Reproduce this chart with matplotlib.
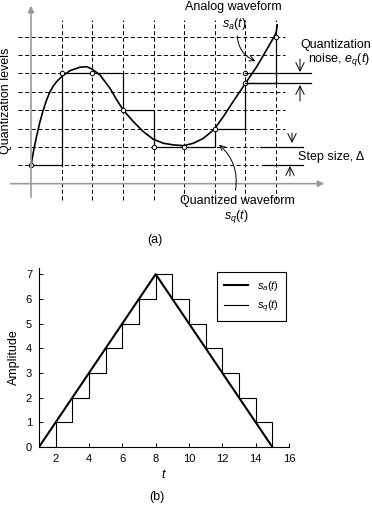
#! /usr/bin/env python3

import matplotlib
matplotlib.use("Agg")
import matplotlib.pyplot as plt

plt.rcParams['font.family'] = ['Liberation Sans', 'DejaVu Sans']
plt.rcParams['mathtext.fontset'] = 'custom'
plt.rcParams['mathtext.rm'] = 'Liberation Sans'
plt.rcParams['mathtext.it'] = 'Liberation Sans:italic'

# ---- data, panel (a): analog curve (t, level)
curve_t = [0, 0.08, 0.18, 0.29, 0.40, 0.51, 0.62, 0.73, 0.84, 1.02, 1.27, 1.60,
           1.82, 2.0, 2.25, 2.58, 2.80, 3.01, 3.34, 3.67, 3.99, 4.32, 4.65,
           4.99, 5.30, 5.63, 5.98, 6.28, 6.60, 7.0, 7.37, 7.69, 8.0, 8.04]
curve_lvl = [0, 0.75, 1.56, 2.35, 3.01, 3.56, 4.01, 4.32, 4.56, 4.86, 5.15, 5.34,
             5.37, 5.23, 4.92, 4.19, 3.56, 3.01, 2.38, 1.83, 1.42, 1.20, 1.11,
             1.07, 1.20, 1.47, 1.96, 2.65, 3.47, 4.46, 5.37, 6.28, 7.19, 7.64]
sample_t = [0, 1, 2, 3, 4, 5, 6, 7, 7, 8]
sample_lvl = [0, 5, 5, 3, 1, 1, 2, 4.46, 5, 7]
stair_t = [0, 1, 2, 3, 4, 5, 6, 7, 8]
stair_lvl = [0, 5, 5, 3, 1, 1, 2, 4.46, 4.46]
levels = [0, 1, 2, 3, 4, 5, 6, 7]

# ---- data, panel (b)
sa_t = [1, 8, 15]
sa_val = [0, 7, 0]
sq_t = list(range(1, 16))
sq_val = [0, 1, 2, 3, 4, 5, 6, 7, 6, 5, 4, 3, 2, 1, 0]
xticks_b = [2, 4, 6, 8, 10, 12, 14, 16]
yticks_b = [0, 1, 2, 3, 4, 5, 6, 7]

W, H = 372, 505
fig = plt.figure(figsize=(W / 100, H / 100), dpi=100)

# pixel -> data mapping of panel (a)
X0, DX = 31.0, 30.63
Y0, DY = 165.3, 18.37
def tx(px):
    return (px - X0) / DX
def ly(py):
    return (Y0 - py) / DY

ax = fig.add_axes([0, (H - 250) / H, 1, 250 / H])
ax.set_xlim(tx(0), tx(W))
ax.set_ylim(ly(250), ly(0))
ax.axis('off')

dash = dict(color='k', lw=0.7, dashes=[4.2, 2.6])
for t in range(1, 9):
    ax.plot([t, t], [-1.9, 7.9], **dash)
for lv in levels:
    right = tx(258) if lv in (0, 1) else tx(285)
    ax.plot([tx(18), right], [lv, lv], **dash)

# axes with arrows
ax.annotate('', xy=(tx(327), -1), xytext=(tx(8), -1),
            arrowprops=dict(arrowstyle='-|>', color='#999999', lw=1.2, mutation_scale=9))
ax.annotate('', xy=(0, ly(3)), xytext=(0, ly(200)),
            arrowprops=dict(arrowstyle='-|>', color='#999999', lw=1.2, mutation_scale=9))

# staircase and analog waveform
ax.plot(stair_t, stair_lvl, drawstyle='steps-post', color='k', lw=0.9)
ax.plot([8, 8], [stair_lvl[-1], sample_lvl[-1]], color='k', lw=0.9)
ax.plot(curve_t, curve_lvl, color='k', lw=1.2)
ax.plot(sample_t, sample_lvl, 'o', ms=3.2, mfc='white', mec='k', mew=0.7)

# noise / step-size reference lines
ax.plot([7, tx(311)], [5, 5], color='k', lw=0.9)
ax.plot([7, tx(311)], [4.46, 4.46], color='k', lw=0.9)
ax.plot([tx(260), tx(303)], [1, 1], color='k', lw=0.9)
ax.plot([tx(262), tx(303)], [0, 0], color='k', lw=0.9)

small = dict(arrowstyle='->,head_length=0.5,head_width=0.25', color='k', lw=0.7,
             mutation_scale=12, shrinkA=0, shrinkB=0)
ax.annotate('', xy=(tx(300), ly(72)), xytext=(tx(300), ly(59)), arrowprops=small)
ax.annotate('', xy=(tx(300), ly(85)), xytext=(tx(300), ly(101)), arrowprops=small)
ax.annotate('', xy=(tx(292), ly(143)), xytext=(tx(292), ly(133)), arrowprops=small)
ax.annotate('', xy=(tx(290), ly(166)), xytext=(tx(290), ly(176)), arrowprops=small)

# curved pointers
ax.annotate('', xy=(tx(258), ly(62)), xytext=(tx(237), ly(33)),
            arrowprops=dict(arrowstyle='->', color='k', lw=0.7, mutation_scale=9,
                            connectionstyle='arc3,rad=0.35'))
ax.annotate('', xy=(tx(217), ly(143)), xytext=(tx(235), ly(193)),
            arrowprops=dict(arrowstyle='->', color='k', lw=0.7, mutation_scale=9,
                            connectionstyle='arc3,rad=0.3'))

def ftext(px, py, s, **kw):
    fig.text(px / W, 1 - py / H, s, va='center', fontsize=9, **kw)

ftext(233, 7, 'Analog waveform', ha='center')
ftext(234, 24, r'$s_a(t)$', ha='center')
ftext(371, 45, 'Quantization', ha='right')
ftext(370, 60, r'noise, $e_q(t)$', ha='right')
ftext(298, 157, 'Step size, Δ', ha='left')
ftext(237, 201, 'Quantized waveform', ha='center')
ftext(236, 217, r'$s_q(t)$', ha='center')
ftext(155, 240, '(a)', ha='center')
ftext(6, 101, 'Quantization levels', ha='center', rotation=90)

# ---- panel (b)
bx = fig.add_axes([39 / W, (H - 447) / H, 250 / W, 179 / H])
bx.plot(sa_t, sa_val, color='k', lw=1.5, label=r'$s_a(t)$')
bx.plot(sq_t, sq_val, drawstyle='steps-post', color='k', lw=0.8, label=r'$s_q(t)$')
bx.set_xlim(1, 16)
bx.set_ylim(0, 7.25)
bx.set_xticks(xticks_b)
bx.set_yticks(yticks_b)
bx.spines['top'].set_visible(False)
bx.spines['right'].set_visible(False)
for s in ('left', 'bottom'):
    bx.spines[s].set_linewidth(0.8)
bx.tick_params(direction='in', length=3, width=0.7, labelsize=8, pad=5)
bx.set_ylabel('Amplitude', fontsize=9, labelpad=4)
bx.set_xlabel(r'$t$', fontsize=9, labelpad=3)
leg = bx.legend(loc='upper right', bbox_to_anchor=(286 / W, 1 - 272 / H),
                bbox_transform=fig.transFigure, borderaxespad=0, fancybox=False,
                framealpha=1, edgecolor='k', fontsize=8, handlelength=2.2,
                handletextpad=0.8, borderpad=0.6, labelspacing=0.5)
leg.get_frame().set_linewidth(0.8)
ftext(157, 497, '(b)', ha='center')

fig.savefig('out.png', dpi=100)
